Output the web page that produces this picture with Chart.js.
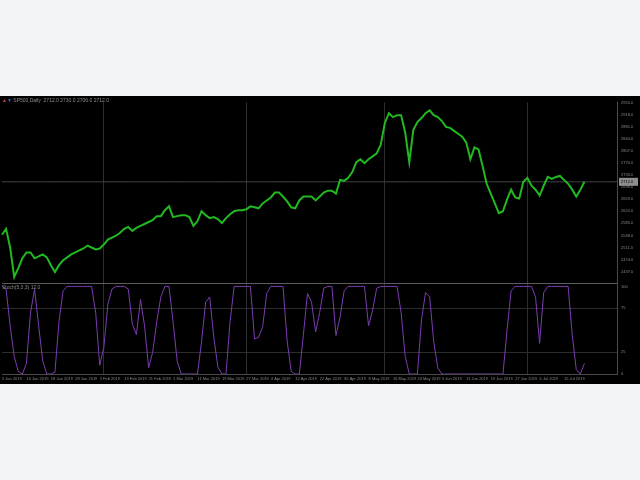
<!DOCTYPE html>
<html>
<head>
<meta charset="utf-8">
<script src="https://cdn.jsdelivr.net/npm/chart.js@4.4.1/dist/chart.umd.min.js"></script>
<style>
  html, body { margin: 0; padding: 0; background: #f3f4f7; }
  #panel { position: absolute; left: 0; top: 96px; width: 640px; height: 288px; background: #000; }
  #grafico { position: absolute; left: 0; top: 0; }
  .cabecera { position: absolute; font-family: "Liberation Sans", sans-serif; font-size: 5px; line-height: 5px; color: #8c8c8c; white-space: nowrap; }
</style>
</head>
<body>
<div id="panel">
  <canvas id="grafico" width="640" height="288"></canvas>
  <div class="cabecera" style="left:2px; top:2px;"><span style="color:#c84040">&#9650;</span><span style="color:#4060d0">&#9660;</span> SP500,Daily&nbsp; 2712.0 2730.0 2706.0 2712.0</div>
  <div class="cabecera" style="left:2px; top:189px;">Stoch(5,3,3) 12.0</div>
</div>
<script>
const NUM_BARRAS = 152;
const BARRAS_POR_FECHA = 6;

const etiquetasFechas = [
  "2 Jan 2019", "10 Jan 2019", "18 Jan 2019", "28 Jan 2019", "5 Feb 2019", "13 Feb 2019",
  "21 Feb 2019", "1 Mar 2019", "11 Mar 2019", "19 Mar 2019", "27 Mar 2019", "4 Apr 2019",
  "12 Apr 2019", "22 Apr 2019", "30 Apr 2019", "8 May 2019", "16 May 2019", "24 May 2019",
  "3 Jun 2019", "11 Jun 2019", "19 Jun 2019", "27 Jun 2019", "5 Jul 2019", "15 Jul 2019"
];

const valoresPrecio = [
  2550, 2568, 2511, 2421, 2448, 2478, 2496, 2496, 2478, 2484,
  2490, 2481, 2457, 2436, 2457, 2472, 2481, 2490, 2496, 2502,
  2508, 2517, 2511, 2505, 2508, 2520, 2535, 2541, 2547, 2556,
  2568, 2574, 2562, 2571, 2577, 2583, 2589, 2595, 2607, 2607,
  2625, 2637, 2604, 2607, 2610, 2610, 2604, 2577, 2592, 2622,
  2610, 2601, 2604, 2598, 2586, 2601, 2613, 2622, 2625, 2625,
  2628, 2637, 2634, 2631, 2646, 2655, 2664, 2679, 2679, 2667,
  2652, 2634, 2631, 2655, 2667, 2667, 2667, 2655, 2667, 2679,
  2685, 2685, 2676, 2718, 2715, 2724, 2742, 2772, 2781, 2769,
  2781, 2790, 2799, 2826, 2892, 2922, 2910, 2916, 2916, 2862,
  2772, 2871, 2895, 2907, 2922, 2931, 2916, 2910, 2898, 2880,
  2877, 2868, 2859, 2850, 2832, 2781, 2817, 2811, 2760, 2706,
  2676, 2646, 2616, 2622, 2658, 2688, 2664, 2661, 2712, 2724,
  2700, 2688, 2670, 2700, 2727, 2721, 2727, 2730, 2718, 2706,
  2688, 2667, 2688, 2712
];

const valoresStoch = [
  100, 97, 55, 20, 3, 0, 12, 70, 97, 55,
  15, 0, 0, 2, 60, 95, 100, 100, 100, 100,
  100, 100, 100, 70, 10, 30, 80, 97, 100, 100,
  100, 97, 57, 45, 85, 55, 7, 25, 60, 88,
  100, 100, 60, 15, 0, 0, 0, 0, 0, 37,
  82, 88, 42, 8, 0, 0, 60, 100, 100, 100,
  100, 100, 40, 42, 54, 92, 100, 100, 100, 100,
  38, 3, 0, 0, 45, 92, 82, 48, 70, 98,
  100, 100, 44, 65, 95, 100, 100, 100, 100, 100,
  55, 73, 98, 100, 100, 100, 100, 100, 70, 20,
  0, 0, 0, 62, 93, 88, 37, 7, 0, 0,
  0, 0, 0, 0, 0, 0, 0, 0, 0, 0,
  0, 0, 0, 0, 50, 95, 100, 100, 100, 100,
  100, 88, 35, 93, 100, 100, 100, 100, 100, 100,
  45, 5, 0, 12
];

const PRECIO_MIN = 2400;
const PRECIO_MAX = 2955;
const PRECIO_PASO = 37;
const nivelesStoch = [0, 25, 75, 100];
const barrasRejilla = [25, 60, 94, 129];

let categorias = [];
for (let i = 0; i < NUM_BARRAS; i++) {
  if (i % BARRAS_POR_FECHA == 0 && i / BARRAS_POR_FECHA < etiquetasFechas.length) {
    categorias.push(etiquetasFechas[i / BARRAS_POR_FECHA]);
  } else {
    categorias.push('');
  }
}
const ultimoPrecio = valoresPrecio[valoresPrecio.length - 1];
const lineaBid = categorias.map(() => ultimoPrecio);

// recuadro gris con el precio actual en el eje
const etiquetaPrecio = {
  id: 'etiquetaPrecio',
  afterDraw(chart) {
    const ctx = chart.ctx;
    const y = chart.scales.y.getPixelForValue(ultimoPrecio);
    const x = chart.chartArea.right + 2;
    ctx.save();
    ctx.fillStyle = '#8e8e8e';
    ctx.fillRect(x, y - 4, 19, 8);
    ctx.fillStyle = '#000';
    ctx.font = '4px "Liberation Sans"';
    ctx.textBaseline = 'middle';
    ctx.fillText(ultimoPrecio.toFixed(1), x + 2, y);
    ctx.restore();
  }
};

const fuenteEje = { family: 'Liberation Sans', size: 4 };

var ctx = document.getElementById('grafico').getContext('2d');
var chart = new Chart(ctx, {
  type: 'line',
  data: {
    labels: categorias,
    datasets: [{
      label: 'precio',
      data: valoresPrecio,
      yAxisID: 'y',
      borderColor: '#22b822',
      borderWidth: 2,
      pointRadius: 0,
      tension: 0,
      order: 1
    },
    {
      label: 'bid',
      data: lineaBid,
      yAxisID: 'y',
      borderColor: '#444444',
      borderWidth: 1,
      pointRadius: 0,
      order: 3
    },
    {
      label: 'stoch',
      data: valoresStoch,
      yAxisID: 'y2',
      borderColor: '#7b3cb0',
      borderWidth: 1,
      pointRadius: 0,
      tension: 0,
      order: 2
    }]
  },
  options: {
    responsive: false,
    animation: false,
    events: [],
    layout: { padding: { top: 1, left: 0, right: 0, bottom: 0 } },
    plugins: { legend: { display: false }, tooltip: { enabled: false } },
    scales: {
      x: {
        afterFit: (scale) => { scale.height = 10; },
        grid: {
          drawTicks: false,
          color: (c) => barrasRejilla.includes(c.index) ? '#2e2e2e' : 'transparent'
        },
        border: { color: '#4a4a4a' },
        ticks: {
          autoSkip: false,
          maxRotation: 0,
          align: 'start',
          padding: 2,
          color: '#8a8a8a',
          font: fuenteEje
        }
      },
      y: {
        position: 'right',
        stack: 'paneles',
        stackWeight: 185,
        min: PRECIO_MIN,
        max: PRECIO_MAX,
        afterFit: (scale) => { scale.width = 23; },
        grid: {
          drawTicks: false,
          color: (c) => c.tick.value == PRECIO_MIN ? '#5c5c5c' : 'transparent'
        },
        border: { color: '#4a4a4a' },
        ticks: {
          stepSize: PRECIO_PASO,
          maxTicksLimit: 30,
          autoSkip: false,
          padding: 4,
          color: '#8a8a8a',
          font: fuenteEje,
          callback: (v) => v == PRECIO_MIN ? '' : v.toFixed(1)
        }
      },
      y2: {
        position: 'right',
        stack: 'paneles',
        stackWeight: 92,
        min: 0,
        max: 103,
        afterFit: (scale) => { scale.width = 23; },
        afterBuildTicks: (scale) => { scale.ticks = nivelesStoch.map(v => ({ value: v })); },
        grid: {
          drawTicks: false,
          color: (c) => {
            if (c.tick.value == 0) return '#4a4a4a';
            if (c.tick.value == 100) return 'transparent';
            return '#2c2c2c';
          }
        },
        border: { color: '#4a4a4a' },
        ticks: {
          padding: 4,
          color: '#8a8a8a',
          font: fuenteEje
        }
      }
    }
  },
  plugins: [etiquetaPrecio]
});
</script>
</body>
</html>
